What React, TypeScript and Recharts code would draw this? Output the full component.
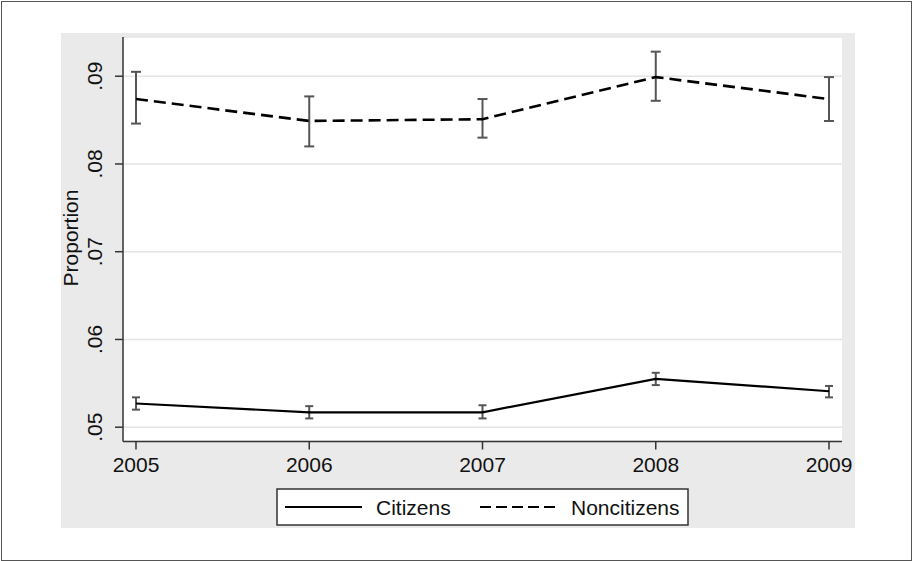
import React from 'react';
import { ComposedChart, Line, XAxis, YAxis, CartesianGrid, ErrorBar } from 'recharts';

const years = [2005, 2006, 2007, 2008, 2009];
const citizens = [0.0527, 0.0517, 0.0517, 0.0555, 0.0541];
const citizensLow = [0.0520, 0.0510, 0.0510, 0.0548, 0.0534];
const citizensHigh = [0.0534, 0.0524, 0.0525, 0.0562, 0.0547];
const noncitizens = [0.0874, 0.0849, 0.0851, 0.0899, 0.0874];
const noncitizensLow = [0.0846, 0.0820, 0.0830, 0.0872, 0.0849];
const noncitizensHigh = [0.0905, 0.0877, 0.0874, 0.0928, 0.0899];
const yTicks = [0.05, 0.06, 0.07, 0.08, 0.09];

const data = years.map((year, i) => ({
  year,
  citizens: citizens[i],
  citizensErr: [citizens[i] - citizensLow[i], citizensHigh[i] - citizens[i]],
  noncitizens: noncitizens[i],
  noncitizensErr: [noncitizens[i] - noncitizensLow[i], noncitizensHigh[i] - noncitizens[i]],
}));

const FONT = '"Liberation Sans", Arial, sans-serif';

const YTick = (props: any) => {
  const { x, y, payload } = props;
  const label = payload.value.toFixed(2).replace(/^0/, '');
  return (
    <text
      x={x}
      y={y}
      transform={`rotate(-90, ${x}, ${y})`}
      textAnchor="middle"
      fontSize={21}
      fontFamily={FONT}
      fill="#111"
    >
      {label}
    </text>
  );
};

const XTick = (props: any) => {
  const { x, y, payload } = props;
  return (
    <text x={x} y={y} dy="0.71em" textAnchor="middle" fontSize={21} fontFamily={FONT} fill="#111">
      {payload.value}
    </text>
  );
};

export default function App() {
  return (
    <div style={{ position: 'absolute', left: 0, top: 0, width: 913, height: 561, background: '#fff' }}>
      <div
        style={{
          position: 'absolute',
          left: 1,
          top: 1,
          width: 911,
          height: 560,
          boxSizing: 'border-box',
          border: '1px solid #555',
        }}
      />
      <div style={{ position: 'absolute', left: 61, top: 33, width: 794, height: 495, background: '#eaeaea' }} />
      <div style={{ position: 'absolute', left: 0, top: 0 }}>
        <ComposedChart
          width={913}
          height={561}
          data={data}
          margin={{ top: 37, right: 71, bottom: 79.5, left: 61 }}
        >
          <CartesianGrid vertical={false} fill="#ffffff" stroke="#e4e4e4" strokeWidth={1.5} />
          <XAxis
            dataKey="year"
            type="number"
            domain={[2004.925, 2009.075]}
            ticks={years}
            allowDataOverflow
            height={40}
            tickSize={8}
            tickMargin={8}
            axisLine={{ stroke: '#333', strokeWidth: 1.5 }}
            tickLine={{ stroke: '#333', strokeWidth: 1.5 }}
            tick={<XTick />}
          />
          <YAxis
            type="number"
            domain={[0.04837, 0.09447]}
            ticks={yTicks}
            allowDataOverflow
            width={62}
            tickSize={8}
            tickMargin={13}
            axisLine={{ stroke: '#333', strokeWidth: 1.5 }}
            tickLine={{ stroke: '#333', strokeWidth: 1.5 }}
            tick={<YTick />}
          />
          <Line
            dataKey="citizens"
            stroke="#000"
            strokeWidth={2.2}
            dot={false}
            isAnimationActive={false}
          >
            <ErrorBar dataKey="citizensErr" width={4} stroke="#555" strokeWidth={2} direction="y" />
          </Line>
          <Line
            dataKey="noncitizens"
            stroke="#000"
            strokeWidth={2.6}
            strokeDasharray="12 6"
            dot={false}
            isAnimationActive={false}
          >
            <ErrorBar dataKey="noncitizensErr" width={5} stroke="#555" strokeWidth={2} direction="y" />
          </Line>
        </ComposedChart>
      </div>
      <svg style={{ position: 'absolute', left: 0, top: 0 }} width={913} height={561} pointerEvents="none">
        <text
          x={78}
          y={238}
          transform="rotate(-90, 78, 238)"
          textAnchor="middle"
          fontSize={21}
          fontFamily={FONT}
          fill="#111"
        >
          Proportion
        </text>
        <rect x={277} y={489} width={411} height={36} fill="#fff" stroke="#333" strokeWidth={1.5} />
        <line x1={285} y1={507} x2={362} y2={507} stroke="#000" strokeWidth={2.2} />
        <text x={376} y={515} fontSize={21} fontFamily={FONT} fill="#111">
          Citizens
        </text>
        <line x1={480} y1={507} x2={558} y2={507} stroke="#000" strokeWidth={2.2} strokeDasharray="11 5" />
        <text x={571} y={515} fontSize={21} fontFamily={FONT} fill="#111">
          Noncitizens
        </text>
      </svg>
    </div>
  );
}
